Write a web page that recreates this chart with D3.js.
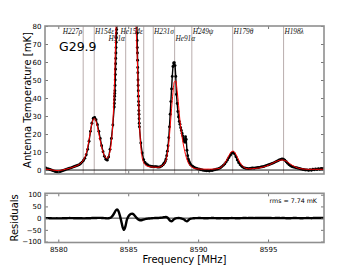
<!DOCTYPE html>
<html>
<head>
<meta charset="utf-8">
<script src="https://cdn.jsdelivr.net/npm/d3@7"></script>
<style>
  body { margin: 0; background: #fff; }
  svg text { font-family: "DejaVu Sans", sans-serif; }
</style>
</head>
<body>
<svg id="chart" width="360" height="270"></svg>
<script>
// observed spectrum, stored as channel blocks (denser where the lines are steep)
const chanStart = [8579.0, 8584.01, 8584.3, 8585.51, 8585.9, 8587.55, 8589.6];
const chanStep = [0.1, 0.01, 0.1, 0.01, 0.1, 0.05, 0.1];
const tempBlocks = [
  [1.3, 1.1, 0.8, 0.6, 0.3, 0.0, -0.3, -0.6, -0.9, -1.1,
   -1.2, -1.0, -0.7, -0.4, -0.1, 0.2, 0.5, 0.7, 1.0, 1.2,
   1.5, 1.8, 2.1, 2.4, 2.7, 3.0, 3.6, 4.4, 5.3, 6.5,
   8.5, 11.5, 16.0, 21.5, 26.0, 28.8, 29.2, 28.0, 25.2, 21.5,
   17.5, 13.5, 10.2, 7.6, 6.0, 5.5, 7.2, 11.5, 17.5, 25.0,
   35.0],
  [37, 39, 41, 42.5, 44, 47, 50, 53, 56, 59, 62, 65, 68, 71, 73.5, 76, 78, 80, 82, 85,
   88, 91, 94, 97, 100],
  [105, 120, 135, 148, 158, 165, 168, 166, 160, 150, 136, 120, 105],
  [102, 100, 98, 96, 94, 92, 90, 88, 86, 84, 82, 80, 76, 72, 68, 65, 61, 57, 54, 50,
   47, 44, 41, 38, 36, 33, 31, 28.5, 26, 24],
  [15, 9.5, 5.8, 4.2, 3.4, 2.8, 2.3, 2.1, 2.0, 1.9, 1.8, 1.8, 1.7, 1.6, 1.8, 2.3, 3.0],
  [3.6, 4.0, 4.8, 6.0, 8.0, 10.5, 13.5, 18, 24, 31, 38, 45, 52, 57.5, 59.5, 59.6, 58, 52, 42, 37,
   32.5, 29.5, 27, 25.5, 23.5, 22, 20.5, 19, 17.5, 16, 15.5, 18.5, 17, 11, 8, 6, 4.8, 3.9, 3.2, 2.6],
  [2.1, 1.6, 1.2, 0.9,
   0.6, 0.4, 0.2, 0.0, -0.2, -0.3, -0.4, -0.3, -0.5, -0.2,
   -0.3, 0.0, 0.2, 0.4, 0.6, 0.9, 1.3, 1.9, 2.6, 3.4,
   4.4, 5.6, 6.9, 8.2, 9.3, 9.8, 9.0, 7.4, 5.6, 4.1,
   3.0, 2.2, 1.6, 1.2, 1.0, 0.9, 0.8, 0.9, 1.0, 1.1,
   1.0, 1.2, 1.3, 1.4, 1.5, 1.7, 1.8, 2.0, 2.3, 2.6,
   2.8, 3.1, 3.4, 3.7, 4.0, 4.4, 4.8, 5.2, 5.6, 5.9,
   6.1, 6.0, 5.4, 4.6, 3.8, 3.0, 2.4, 2.0, 1.7, 1.5,
   1.3, 1.1, 0.9, 0.7, 0.5, 0.3, 0.2, 0.0, 0.1, -0.2,
   0.2, -0.1, 0.4, 0.1, 0.6, 0.3, 0.8, 0.4, 0.9, 0.7,
   1.0]
];

// fitted model and residuals on a 0.1 MHz grid
const gridStart = 8579.0;
const gridStep = 0.1;
const modelTemp = [
  0.6, 0.5, 0.4, 0.3, 0.2, 0.1, 0.0, -0.1, -0.2, -0.3,
  -0.3, -0.2, -0.1, 0.0, 0.2, 0.4, 0.6, 0.8, 1.0, 1.2,
  1.4, 1.7, 2.0, 2.3, 2.7, 3.1, 3.7, 4.5, 5.6, 7.1,
  9.3, 12.5, 16.8, 21.5, 25.6, 28.2, 28.6, 27.0, 24.0, 20.2,
  16.3, 12.8, 10.0, 8.0, 6.8, 6.5, 7.6, 10.5, 16.0, 26.0,
  44, 72, 100, 124, 143, 156, 164, 168, 168, 165,
  158, 147, 133, 117, 102, 88, 72, 50, 27, 13,
  6.8, 4.2, 3.0, 2.4, 2.1, 1.9, 1.8, 1.7, 1.6, 1.6,
  1.5, 1.5, 1.6, 1.8, 2.2, 2.8, 3.8, 5.5, 9.0, 15.0,
  24, 34, 43, 49, 49.5, 44, 36, 27.5, 21, 16,
  12, 8.5, 6.0, 4.0, 2.8, 2.0, 1.4, 1.0, 0.8, 0.7,
  0.6, 0.6, 0.5, 0.5, 0.5, 0.5, 0.5, 0.5, 0.5, 0.5,
  0.5, 0.5, 0.6, 0.7, 0.8, 0.9, 1.3, 1.9, 2.7, 3.7,
  5.0, 6.5, 8.0, 9.4, 10.3, 10.5, 10.0, 8.8, 7.2, 5.6,
  4.1, 2.9, 2.0, 1.4, 1.0, 0.8, 0.7, 0.7, 0.7, 0.8,
  0.8, 0.9, 1.0, 1.1, 1.2, 1.4, 1.6, 1.8, 2.0, 2.3,
  2.6, 2.9, 3.3, 3.7, 4.1, 4.5, 4.8, 5.1, 5.4, 5.5,
  5.6, 5.5, 5.3, 4.9, 4.4, 3.9, 3.3, 2.8, 2.3, 1.9,
  1.5, 1.2, 1.0, 0.8, 0.7, 0.6, 0.5, 0.5, 0.4, 0.4,
  0.4, 0.4, 0.4, 0.4, 0.4, 0.4, 0.4, 0.4, 0.4, 0.4,
  0.4
];
const residual = [
  0.5, 0.3, 0.2, 0.0, -0.5, -0.8, -1.0, -1.2, -1.0, -0.8,
  -1.0, -1.2, -1.0, -0.7, -0.5, -0.3, -0.2, 0.0, 0.3, 0.2,
  0.0, -0.2, -0.5, -0.8, -0.6, -0.5, -0.6, -0.8, -1.2, -1.0,
  -0.8, -0.5, -0.6, -0.3, 0.4, 0.8, 0.5, 0.6, 1.0, 1.2,
  1.0, 0.8, 0.6, -0.2, -0.8, -1.0, -0.5, 1.0, 4, 11,
  21, 32, 37, 30, 12, -12, -38, -50, -35, -8,
  6, 14, 18, 19, 15, 8, 1, -5, -8, -9,
  -8, -6, -4, -3, -2, -1.5, -1, -0.5, 0, 0.5,
  0.5, 0.5, 1.0, 1.5, 2.0, 3.0, 4.5, 5.0, 3.0, -4,
  -11, -13, -9, -4, -1, 0, 0.5, 0, -1.5, -3,
  -6, -11, -14, -9, -4, -2, -1, -0.5, 0, 0,
  0.3, 0.5, 0.2, 0.0, -0.3, -0.5, -0.4, -0.2, 0.0, 0.2,
  0.4, 0.3, 0.0, -0.3, -0.5, -0.4, -0.2, 0.0, -0.3, -0.6,
  -0.8, -0.5, -0.3, 0.0, 0.3, 0.2, 0.0, -0.5, -0.8, -0.5,
  -0.2, 0.0, 0.3, 0.5, 0.4, 0.2, 0.3, 0.5, 0.6, 0.4,
  0.2, 0.5, 0.8, 0.6, 0.4, 0.5, 0.7, 0.6, 0.4, 0.3,
  0.5, 0.6, 0.4, 0.2, 0.0, 0.3, 0.5, 0.6, 0.4, 0.2,
  0.3, 0.5, 0.2, -0.2, -0.5, -0.6, -0.3, 0.0, 0.3, 0.5,
  0.4, 0.2, 0.0, -0.2, -0.4, -0.3, 0.0, 0.2, 0.4, 0.3,
  0.0, -0.3, 0.2, 0.5, 0.3, 0.6, 0.4, 0.8, 0.5, 0.7,
  0.5
];

// recombination line markers
const lineNames = ["H227\u03c1", "H154\u03b5", "H91\u03b1", "He154\u03b5", "H231\u03c3", "He91\u03b1", "H249\u03c8", "H179\u03b8", "H198\u03bb"];
const lineFreqs = [8581.78, 8582.57, 8584.82, 8586.11, 8586.79, 8588.32, 8589.55, 8592.47, 8596.11];

const xTicks = [8580, 8585, 8590, 8595];
const tempTicks = [0, 10, 20, 30, 40, 50, 60, 70, 80];
const resTicks = [-100, -50, 0, 50, 100];
const sourceName = "G29.9";
const rmsLabel = "rms =  7.74 mK";

const svg = d3.select("#chart");
const left = 45, right = 324;
const top1 = 26, bot1 = 174, top2 = 193.3, bot2 = 242.5;

const x = d3.scaleLinear().domain([8579.05, 8599]).range([left, right]);
const yT = d3.scaleLinear().domain([-2.2, 80]).range([bot1, top1]);
const yR = d3.scaleLinear().domain([-104, 106]).range([bot2, top2]);

const obs = tempBlocks.flatMap((vals, s) =>
  vals.map((t, i) => ({ f: chanStart[s] + i * chanStep[s], t })));
const fit = modelTemp.map((t, i) => ({ f: gridStart + i * gridStep, t }));
const res = residual.map((r, i) => ({ f: gridStart + i * gridStep, r }));

const defs = svg.append("defs");
defs.append("clipPath").attr("id", "clipTop").append("rect")
  .attr("x", left).attr("y", top1).attr("width", right - left).attr("height", bot1 - top1);
defs.append("clipPath").attr("id", "clipRes").append("rect")
  .attr("x", left).attr("y", top2).attr("width", right - left).attr("height", bot2 - top2);

// ---- top panel ----
const gTop = svg.append("g").attr("clip-path", "url(#clipTop)");

gTop.selectAll("line.mark")
  .data(lineFreqs)
  .enter().append("line")
  .attr("class", "mark")
  .attr("x1", d => x(d)).attr("x2", d => x(d))
  .attr("y1", top1).attr("y2", bot1)
  .attr("stroke", "#b9adad").attr("stroke-width", 1);

gTop.append("line")
  .attr("x1", left).attr("x2", right)
  .attr("y1", yT(0)).attr("y2", yT(0))
  .attr("stroke", "#000").attr("stroke-width", 0.9);

// thin trace joining the channels, then the channel dots
gTop.append("path")
  .datum(obs)
  .attr("fill", "none")
  .attr("stroke", "#000")
  .attr("stroke-width", 1.4)
  .attr("d", d3.line().x(d => x(d.f)).y(d => yT(d.t)));

gTop.selectAll("circle")
  .data(obs)
  .enter().append("circle")
  .attr("cx", d => x(d.f))
  .attr("cy", d => yT(d.t))
  .attr("r", 1.45)
  .attr("fill", "#000");

gTop.append("path")
  .datum(fit)
  .attr("fill", "none")
  .attr("stroke", "#ff0000")
  .attr("stroke-width", 1)
  .attr("d", d3.line().x(d => x(d.f)).y(d => yT(d.t)).curve(d3.curveMonotoneX));

// line labels
const rightAligned = new Set(["H227\u03c1", "H91\u03b1", "He154\u03b5"]);
const lowerRow = new Set(["H91\u03b1", "He91\u03b1"]);
svg.selectAll("text.linelab")
  .data(lineNames)
  .enter().append("text")
  .attr("class", "linelab")
  .attr("x", (d, i) => x(lineFreqs[i]) + (rightAligned.has(d) ? -0.8 : 0.8))
  .attr("y", d => lowerRow.has(d) ? 40.5 : 33.5)
  .attr("text-anchor", d => rightAligned.has(d) ? "end" : "start")
  .style("font-family", "'Liberation Serif', serif")
  .style("font-style", "italic")
  .style("font-size", "7.3px")
  .attr("fill", "#111")
  .text(d => d);

svg.append("text")
  .attr("x", 59).attr("y", 50.5)
  .style("font-size", "12.5px")
  .attr("fill", "#000")
  .text(sourceName);

// ---- residual panel ----
const gRes = svg.append("g").attr("clip-path", "url(#clipRes)");
gRes.append("line")
  .attr("x1", left).attr("x2", right)
  .attr("y1", yR(0)).attr("y2", yR(0))
  .attr("stroke", "#000").attr("stroke-width", 0.8);
gRes.append("path")
  .datum(res)
  .attr("fill", "none")
  .attr("stroke", "#000")
  .attr("stroke-width", 2.4)
  .attr("stroke-linejoin", "round")
  .attr("d", d3.line().x(d => x(d.f)).y(d => yR(d.r)).curve(d3.curveMonotoneX));

svg.append("text")
  .attr("x", 317).attr("y", 203)
  .attr("text-anchor", "end")
  .style("font-size", "6.3px")
  .attr("fill", "#000")
  .text(rmsLabel);

// ---- axes ----
function styleAxis(g) {
  g.select(".domain").remove();
  g.selectAll(".tick line").attr("stroke", "#555").attr("stroke-width", 0.8);
  g.selectAll(".tick text").style("font-size", "7px").attr("fill", "#000")
    .style("font-family", "'DejaVu Sans', sans-serif");
}

svg.append("g").attr("transform", `translate(0,${bot1})`)
  .call(d3.axisBottom(x).tickValues(xTicks).tickSize(-3).tickFormat(""))
  .call(styleAxis);
svg.append("g").attr("transform", `translate(0,${top1})`)
  .call(d3.axisTop(x).tickValues(xTicks).tickSize(-3).tickFormat(""))
  .call(styleAxis);
svg.append("g").attr("transform", `translate(${left},0)`)
  .call(d3.axisLeft(yT).tickValues(tempTicks).tickSize(-3).tickPadding(3.5))
  .call(styleAxis);
svg.append("g").attr("transform", `translate(${right},0)`)
  .call(d3.axisRight(yT).tickValues(tempTicks).tickSize(-3).tickFormat(""))
  .call(styleAxis);

svg.append("g").attr("transform", `translate(0,${bot2})`)
  .call(d3.axisBottom(x).tickValues(xTicks).tickSize(-3).tickPadding(5).tickFormat(d3.format("d")))
  .call(styleAxis);
svg.append("g").attr("transform", `translate(0,${top2})`)
  .call(d3.axisTop(x).tickValues(xTicks).tickSize(-3).tickFormat(""))
  .call(styleAxis);
svg.append("g").attr("transform", `translate(${left},0)`)
  .call(d3.axisLeft(yR).tickValues(resTicks).tickSize(-3).tickPadding(3.5))
  .call(styleAxis);
svg.append("g").attr("transform", `translate(${right},0)`)
  .call(d3.axisRight(yR).tickValues(resTicks).tickSize(-3).tickFormat(""))
  .call(styleAxis);

// frames
[[top1, bot1], [top2, bot2]].forEach(([t, b]) => {
  svg.append("rect")
    .attr("x", left).attr("y", t)
    .attr("width", right - left).attr("height", b - t)
    .attr("fill", "none")
    .attr("stroke", "#8f8f8f")
    .attr("stroke-width", 1.6);
});

// axis titles
svg.append("text")
  .attr("transform", `translate(30.5,${(top1 + bot1) / 2}) rotate(-90)`)
  .attr("text-anchor", "middle")
  .style("font-size", "10px")
  .text("Antenna Temperature [mK]");
svg.append("text")
  .attr("transform", `translate(17.5,${(top2 + bot2) / 2}) rotate(-90)`)
  .attr("text-anchor", "middle")
  .style("font-size", "10px")
  .text("Residuals");
svg.append("text")
  .attr("x", (left + right) / 2).attr("y", 263)
  .attr("text-anchor", "middle")
  .style("font-size", "10px")
  .text("Frequency [MHz]");
</script>
</body>
</html>
